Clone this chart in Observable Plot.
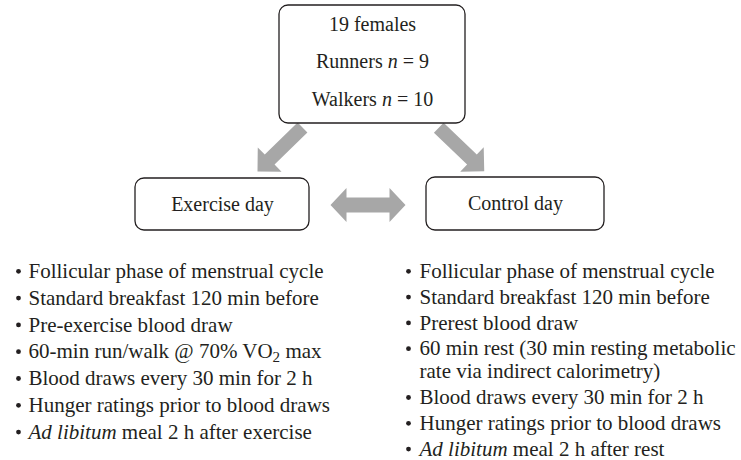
<!DOCTYPE html>
<html><head><meta charset="utf-8">
<script src="https://cdn.jsdelivr.net/npm/d3@7"></script>
<script src="https://cdn.jsdelivr.net/npm/@observablehq/plot@0.6"></script>
<style>body{margin:0;background:#fff} svg text{font-family:"Liberation Serif","Times New Roman","DejaVu Serif",serif !important;}</style>
</head><body><div id="chart"></div>
<script>
// ---- content ----
const topLines = ["19 females", "Runners n = 9", "Walkers n = 10"];
const dayLabels = ["Exercise day", "Control day"];
const exerciseItems = [
  "Follicular phase of menstrual cycle",
  "Standard breakfast 120 min before",
  "Pre-exercise blood draw",
  "60-min run/walk @ 70% VO2 max",
  "Blood draws every 30 min for 2 h",
  "Hunger ratings prior to blood draws",
  "Ad libitum meal 2 h after exercise"
];
const controlItems = [
  "Follicular phase of menstrual cycle",
  "Standard breakfast 120 min before",
  "Prerest blood draw",
  "60 min rest (30 min resting metabolic\nrate via indirect calorimetry)",
  "Blood draws every 30 min for 2 h",
  "Hunger ratings prior to blood draws",
  "Ad libitum meal 2 h after rest"
];
const italicPhrases = ["Ad libitum"];
const italicSymbols = ["n"];

// ---- layout ----
const W = 741, H = 460;
const FONT = "'Liberation Serif', 'Times New Roman', serif";
const INK = "#231f20", ARROW = "#a7a7a7";
const boxFont = 20, listFont = 21;
const topBox = {x1: 279, x2: 465, y1: 5, y2: 123};
const dayBoxes = [{x1: 135, x2: 309, y1: 178, y2: 230}, {x1: 426, x2: 604, y1: 177, y2: 230}];
const topBaselines = [30, 67.5, 105];
const lists = [
  {items: exerciseItems, bulletX: 18, textX: 28, y0: 277.5, gap: 26.8, wrap: 21},
  {items: controlItems, bulletX: 408, textX: 419, y0: 277.5, gap: 25.8, wrap: 23}
];

const boxRows = [topBox, ...dayBoxes];
const textRows = [];
topLines.forEach((t, i) => textRows.push({x: (topBox.x1 + topBox.x2) / 2, y: topBaselines[i] - 0.32 * boxFont, t, fs: boxFont}));
dayLabels.forEach((t, i) => {
  const b = dayBoxes[i];
  textRows.push({x: (b.x1 + b.x2) / 2, y: (b.y1 + b.y2) / 2, t, fs: boxFont});
});
const bulletRows = [];
lists.forEach(L => {
  let y = L.y0;
  L.items.forEach((item) => {
    const parts = item.split("\n");
    bulletRows.push({x: L.bulletX, y: y - 0.32 * listFont});
    parts.forEach((p, j) => {
      if (j > 0) y += L.wrap;
      textRows.push({x: L.textX, y: y - 0.32 * listFont, t: p, fs: listFont});
    });
    y += L.gap;
  });
});

// arrows: tail centre -> tip
const arrows = [
  {from: [302, 127], to: [257, 171]},
  {from: [438, 127], to: [484, 171]}
];
const dblArrows = [{from: [330, 204.5], to: [405, 204.5]}];
function arrowGeom(a) {
  const dx = a.to[0] - a.from[0], dy = a.to[1] - a.from[1];
  return {x: (a.from[0] + a.to[0]) / 2, y: (a.from[1] + a.to[1]) / 2,
          rot: Math.atan2(dx, -dy) * 180 / Math.PI, len: Math.hypot(dx, dy)};
}
function blockArrow(hl, hw, w, both) {
  return {draw(ctx, size) {
    const h = Math.sqrt(size / Math.PI);
    ctx.moveTo(0, -h);
    ctx.lineTo(hw, -h + hl);
    ctx.lineTo(w, -h + hl);
    if (both) { ctx.lineTo(w, h - hl); ctx.lineTo(hw, h - hl); ctx.lineTo(0, h); ctx.lineTo(-hw, h - hl); ctx.lineTo(-w, h - hl); }
    else { ctx.lineTo(w, h); ctx.lineTo(-w, h); }
    ctx.lineTo(-w, -h + hl);
    ctx.lineTo(-hw, -h + hl);
    ctx.closePath();
  }};
}
const diag = arrows.map(arrowGeom);
const dbl = dblArrows.map(arrowGeom);

const plot = Plot.plot({
  width: W, height: H, margin: 0,
  x: {domain: [0, W], range: [0, W], axis: null},
  y: {domain: [0, H], range: [0, H], axis: null},
  style: {fontFamily: FONT, background: "white", color: INK},
  marks: [
    Plot.dot(diag, {x: "x", y: "y", r: diag[0].len / 2, rotate: "rot", symbol: blockArrow(17, 17, 7, false), fill: ARROW, stroke: "none"}),
    Plot.dot(dbl, {x: "x", y: "y", r: dbl[0].len / 2, rotate: "rot", symbol: blockArrow(16, 17, 7.5, true), fill: ARROW, stroke: "none"}),
    Plot.rect(boxRows, {x1: "x1", x2: "x2", y1: "y1", y2: "y2", rx: 9, fill: "white", stroke: INK, strokeWidth: 1.3}),
    Plot.dot(bulletRows, {x: "x", y: "y", r: 2.4, fill: INK, stroke: "none"}),
    Plot.text(textRows.filter(d => d.fs === boxFont), {x: "x", y: "y", text: "t", fontSize: boxFont, fontFamily: FONT, textAnchor: "middle", fill: INK}),
    Plot.text(textRows.filter(d => d.fs === listFont), {x: "x", y: "y", text: "t", fontSize: listFont, fontFamily: FONT, textAnchor: "start", fill: INK})
  ]
});

// rich text: italics and subscript
const NS = "http://www.w3.org/2000/svg";
const re = new RegExp("(" + italicPhrases.join("|") + "|\\b(?:" + italicSymbols.join("|") + ")\\b|VO2)");
plot.querySelectorAll("text").forEach(el => {
  const s = el.textContent;
  if (!re.test(s)) return;
  while (el.firstChild) el.removeChild(el.firstChild);
  let shift = 0;
  s.split(re).forEach(part => {
    if (!part) return;
    const ts = document.createElementNS(NS, "tspan");
    if (part === "VO2") {
      const a = document.createElementNS(NS, "tspan"); a.textContent = "VO"; el.appendChild(a);
      ts.textContent = "2"; ts.setAttribute("font-size", "0.72em"); ts.setAttribute("dy", "4"); shift = 4;
      el.appendChild(ts); return;
    }
    ts.textContent = part;
    if (italicPhrases.includes(part) || italicSymbols.includes(part)) ts.setAttribute("font-style", "italic");
    if (shift) { ts.setAttribute("dy", String(-shift)); shift = 0; }
    el.appendChild(ts);
  });
});
document.getElementById("chart").appendChild(plot);
</script>
</body></html>
